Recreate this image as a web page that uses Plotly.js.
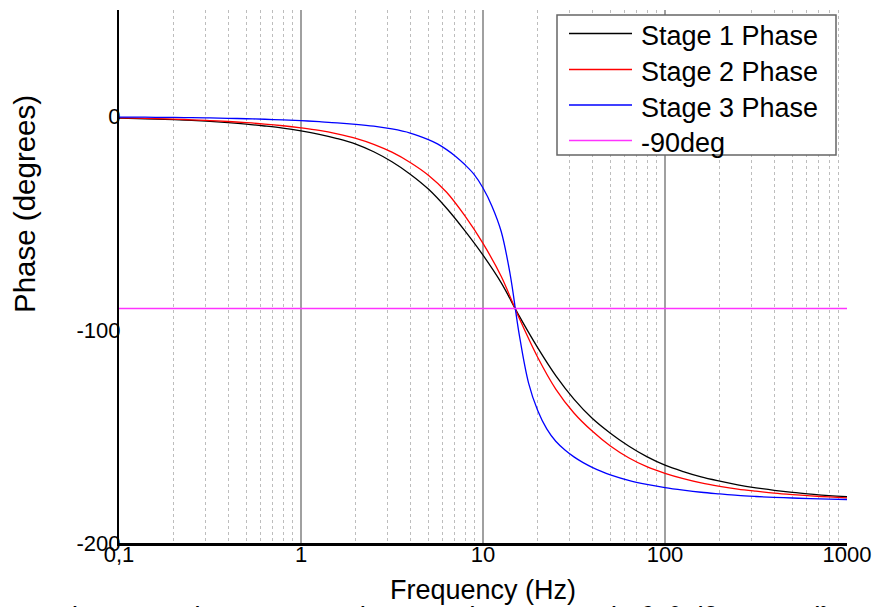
<!DOCTYPE html>
<html>
<head>
<meta charset="utf-8">
<script src="https://cdn.plot.ly/plotly-3.0.1.min.js"></script>
<style>html,body{margin:0;padding:0;background:#fff;}#chart{width:874px;height:607px;}</style>
</head>
<body>
<div id="chart"></div>
<script>
// ---- data (frequency in Hz, phase in degrees) ----
const stage1Freq  = [0.1, 0.126, 0.158, 0.2, 0.251, 0.316, 0.398, 0.501, 0.631, 0.794,
                     1, 1.26, 1.58, 2, 2.51, 3.16, 3.98, 5.01, 6.31, 7.94,
                     10, 12.6, 15.8, 20, 25.1, 31.6, 39.8, 50.1, 63.1, 79.4,
                     100, 126, 158, 200, 251, 316, 398, 501, 631, 794, 1000];
const stage1Phase = [-0.75, -0.92, -1.15, -1.45, -1.8, -2.25, -2.8, -3.5, -4.4, -5.4,
                     -6.7, -8.3, -10.3, -12.9, -16.5, -21.2, -27, -34, -43, -53.5,
                     -65, -78, -93.5, -108.5, -121.5, -132.5, -141.5, -148.5, -154.5, -159.5,
                     -163.5, -166.5, -169, -171, -172.7, -174.1, -175.3, -176.3, -177.1, -177.8, -178.3];

const stage2Freq  = [0.1, 0.126, 0.158, 0.2, 0.251, 0.316, 0.398, 0.501, 0.631, 0.794,
                     1, 1.26, 1.58, 2, 2.51, 3.16, 3.98, 5.01, 6.31, 7.94,
                     10, 12.6, 15.8, 20, 25.1, 31.6, 39.8, 50.1, 63.1, 79.4,
                     100, 126, 158, 200, 251, 316, 398, 501, 631, 794, 1000];
const stage2Phase = [-0.6, -0.75, -0.95, -1.2, -1.5, -1.85, -2.3, -2.85, -3.5, -4.3,
                     -5.3, -6.5, -8.1, -10.2, -13, -16.7, -21.5, -27.5, -35.5, -46.5,
                     -59.5, -75, -94.5, -113, -127.8, -139, -147.5, -154.5, -160, -164.2,
                     -167.3, -169.8, -171.8, -173.4, -174.7, -175.7, -176.6, -177.3, -177.9, -178.4, -178.8];

const stage3Freq  = [0.1, 0.126, 0.158, 0.2, 0.251, 0.316, 0.398, 0.501, 0.631, 0.794,
                     1, 1.26, 1.58, 2, 2.51, 3.16, 3.98, 5.01, 5.62, 6.31, 7.08, 7.94, 8.91,
                     10, 11.2, 12.6, 14.1, 15.8, 17.8, 20, 22.4, 25.1, 28.2, 31.6, 35.5, 39.8, 44.7, 50.1,
                     63.1, 79.4, 100, 126, 158, 200, 251, 316, 398, 501, 631, 794, 1000];
const stage3Phase = [-0.2, -0.25, -0.32, -0.4, -0.5, -0.62, -0.8, -1.0, -1.25, -1.55,
                     -1.9, -2.4, -2.9, -3.6, -4.5, -5.8, -7.7, -10.8, -12.8, -15.5, -18.7, -22.5, -27,
                     -33.5, -42, -54, -74, -102, -125, -138, -146.5, -152.3, -156.4, -159.6, -162.3, -164.5, -166.4, -168,
                     -170.6, -172.5, -174, -175.2, -176.2, -177, -177.7, -178.2, -178.6, -178.9, -179.2, -179.4, -179.6];

const refFreq  = [0.1, 1000];
const refPhase = [-90, -90];

const seriesNames  = ['Stage 1 Phase', 'Stage 2 Phase', 'Stage 3 Phase', '-90deg'];
const seriesColors = ['#000000', '#ff0000', '#0000ff', '#ff33ff'];

const xTickVals  = [0.1, 1, 10, 100, 1000];
const xTickText  = ['0,1', '1', '10', '100', '1000'];
const xMinorVals = [0.2,0.3,0.4,0.5,0.6,0.7,0.8,0.9, 2,3,4,5,6,7,8,9, 20,30,40,50,60,70,80,90, 200,300,400,500,600,700,800,900];
const yTickVals  = [0, -100, -200];
const yTickText  = ['0', '-100', '-200'];

const xTitle = 'Frequency (Hz)';
const yTitle = 'Phase (degrees)';
const caption = 'Γράφημα 3: Σύγκριση της απόκρισης φάσης των τριών βαθμίδων του φίλτρου';

// ---- layout helpers (pixel -> paper) ----
const L = 119, R = 847, T = 10, B = 543;
const W = 874, H = 607;
const px = x => (x - L) / (R - L);
const py = y => (B - y) / (B - T);

const FONT = 'Arial, "Liberation Sans", sans-serif';

const xs = [stage1Freq, stage2Freq, stage3Freq, refFreq];
const ys = [stage1Phase, stage2Phase, stage3Phase, refPhase];

const traces = xs.map((x, i) => ({
  x: x, y: ys[i], name: seriesNames[i], type: 'scatter', mode: 'lines',
  line: {color: seriesColors[i], width: 1.3, shape: i < 3 ? 'spline' : 'linear', smoothing: 1},
  showlegend: false, hoverinfo: 'x+y+name'
}));

// manual legend (long line samples as in the reference)
const legendBox = {x0: 557, x1: 836, y0: 15, y1: 155};
const legendRows = [33.5, 69.5, 105, 140.5];
const shapes = [{
  type: 'rect', xref: 'paper', yref: 'paper', layer: 'above',
  x0: px(legendBox.x0), x1: px(legendBox.x1), y0: py(legendBox.y1), y1: py(legendBox.y0),
  line: {color: '#666666', width: 1.5}, fillcolor: '#ffffff'
}];
const annotations = [];
legendRows.forEach((ry, i) => {
  shapes.push({type: 'line', xref: 'paper', yref: 'paper', layer: 'above',
    x0: px(569), x1: px(632), y0: py(ry), y1: py(ry),
    line: {color: seriesColors[i], width: 1.3}});
  annotations.push({xref: 'paper', yref: 'paper', x: px(639), y: py(ry + 2.5),
    xanchor: 'left', yanchor: 'middle', showarrow: false, text: seriesNames[i],
    font: {family: FONT, size: 27, color: '#000'}});
});

annotations.push({xref: 'paper', yref: 'paper', x: px(24), y: py(204), textangle: -90,
  xanchor: 'center', yanchor: 'middle', showarrow: false, text: yTitle,
  font: {family: FONT, size: 29.5, color: '#000'}});

annotations.push({xref: 'paper', yref: 'paper', x: px(36), y: py(599),
  xanchor: 'left', yanchor: 'top', showarrow: false, text: caption,
  font: {family: '"Liberation Serif", "Times New Roman", serif', size: 27, color: '#000'}});

const layout = {
  width: W, height: H,
  margin: {l: L, r: W - R, t: T, b: H - B, pad: 0},
  paper_bgcolor: '#ffffff', plot_bgcolor: '#ffffff',
  font: {family: FONT, color: '#000'},
  showlegend: false,
  xaxis: {
    type: 'log', range: [-1, 3], autorange: false,
    tickmode: 'array', tickvals: xTickVals, ticktext: xTickText,
    tickfont: {family: FONT, size: 22, color: '#000'},
    ticks: '', ticklabelstandoff: -10,
    showline: true, linecolor: '#000', linewidth: 2.5,
    showgrid: true, gridcolor: '#a0a0a0', gridwidth: 1.2, zeroline: false,
    minor: {tickmode: 'array', tickvals: xMinorVals, showgrid: true, gridcolor: '#bdbdbd', gridwidth: 1, griddash: 'dot', ticks: ''},
    title: {text: xTitle, font: {family: FONT, size: 27, color: '#000'}, standoff: 14},
    automargin: false
  },
  yaxis: {
    range: [-200, 50], autorange: false,
    tickmode: 'array', tickvals: yTickVals, ticktext: yTickText,
    tickfont: {family: FONT, size: 22, color: '#000'},
    ticks: '', ticklabelstandoff: -8,
    showline: true, linecolor: '#000', linewidth: 2,
    showgrid: false, zeroline: false, automargin: false
  },
  shapes: shapes,
  annotations: annotations
};

Plotly.newPlot('chart', traces, layout, {staticPlot: true, displayModeBar: false});
</script>
</body>
</html>
